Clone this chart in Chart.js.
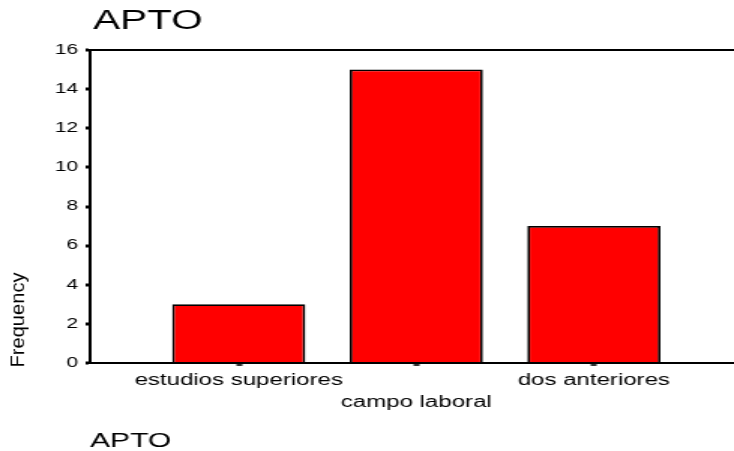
<!DOCTYPE html>
<html>
<head>
<meta charset="utf-8">
<script src="https://cdn.jsdelivr.net/npm/chart.js@4/dist/chart.umd.min.js"></script>
<style>
	html, body { margin: 0; padding: 0; background: #fff; }
</style>
</head>
<body>
<!-- the reference is stretched sideways, so the canvas is drawn narrow and widened by an inline style -->
<canvas id="apto" width="489" height="451" style="width:734px;height:451px;"></canvas>
<script>
	// 데이터
	let categories = ['estudios superiores', 'campo laboral', 'dos anteriores'];
	let frequencies = [3, 15, 7];
	let yTicks = [0, 2, 4, 6, 8, 10, 12, 14, 16];
	let xLimits = [-0.837, 2.789];

	let chartTitle = 'APTO';
	let footerText = 'APTO';
	let yTitle = 'Frequency';

	let fontFamily = '"Liberation Sans", Arial, Helvetica, sans-serif';

	// 제목, 축 제목, 하단 글자
	let textPlugin = {
		id: 'textPlugin',
		afterDraw: function(chart) {
			let ctx = chart.ctx;
			ctx.save();
			ctx.fillStyle = '#000';
			ctx.textAlign = 'left';
			ctx.textBaseline = 'alphabetic';

			ctx.font = '27px ' + fontFamily;
			ctx.fillText(chartTitle, 62, 29);

			ctx.font = '20px ' + fontFamily;
			ctx.fillText(footerText, 60, 447);

			ctx.font = '18px ' + fontFamily;
			let w = ctx.measureText(yTitle).width;
			ctx.translate(16, 320);
			ctx.rotate(-Math.PI / 2);
			ctx.scale(95 / w, 0.72);
			ctx.textAlign = 'center';
			ctx.fillText(yTitle, 0, 0);
			ctx.restore();
		}
	};

	let ctx = document.getElementById('apto');

	let barChart = new Chart(ctx, {
		type: 'bar',
		data: {
			datasets: [{
				data: frequencies.map(function(v, i) { return { x: i, y: v }; }),
				backgroundColor: '#ff0000',
				borderColor: '#000',
				borderWidth: 1.8,
				barPercentage: 0.75,
				categoryPercentage: 1
			}]
		},
		options: {
			responsive: false,
			devicePixelRatio: 1,
			animation: false,
			layout: {
				padding: { top: 50, left: 0, right: 0, bottom: 0 }
			},
			plugins: {
				legend: { display: false },
				tooltip: { enabled: false }
			},
			scales: {
				x: {
					type: 'linear',
					offset: false,
					min: xLimits[0],
					max: xLimits[1],
					afterBuildTicks: function(scale) {
						scale.ticks = categories.map(function(c, i) { return { value: i }; });
					},
					afterFit: function(scale) {
						scale.height = 88;
					},
					ticks: {
						autoSkip: false,
						maxRotation: 0,
						padding: 3,
						color: '#000',
						font: { family: fontFamily, size: 16, lineHeight: 1.4 },
						callback: function(value) {
							let label = categories[Math.round(value)];
							// 가운데 라벨은 한 줄 아래로
							return Math.round(value) % 2 == 1 ? ['', label] : label;
						}
					},
					grid: {
						offset: false,
						drawOnChartArea: false,
						drawTicks: true,
						tickLength: 3,
						tickWidth: 4,
						tickColor: '#333'
					},
					border: { display: true, color: '#000', width: 2 }
				},
				y: {
					min: yTicks[0],
					max: yTicks[yTicks.length - 1],
					afterBuildTicks: function(scale) {
						scale.ticks = yTicks.map(function(v) { return { value: v }; });
					},
					afterFit: function(scale) {
						scale.width = 60;
					},
					ticks: {
						padding: 5,
						color: '#000',
						font: { family: fontFamily, size: 14 }
					},
					grid: {
						drawTicks: true,
						tickLength: 3,
						tickWidth: 3,
						tickColor: '#000',
						color: function(c) {
							return c.tick && c.tick.value == 16 ? '#000' : 'rgba(0,0,0,0)';
						},
						lineWidth: 2
					},
					border: { display: true, color: '#000', width: 2 }
				}
			}
		},
		plugins: [textPlugin]
	});
</script>
</body>
</html>
